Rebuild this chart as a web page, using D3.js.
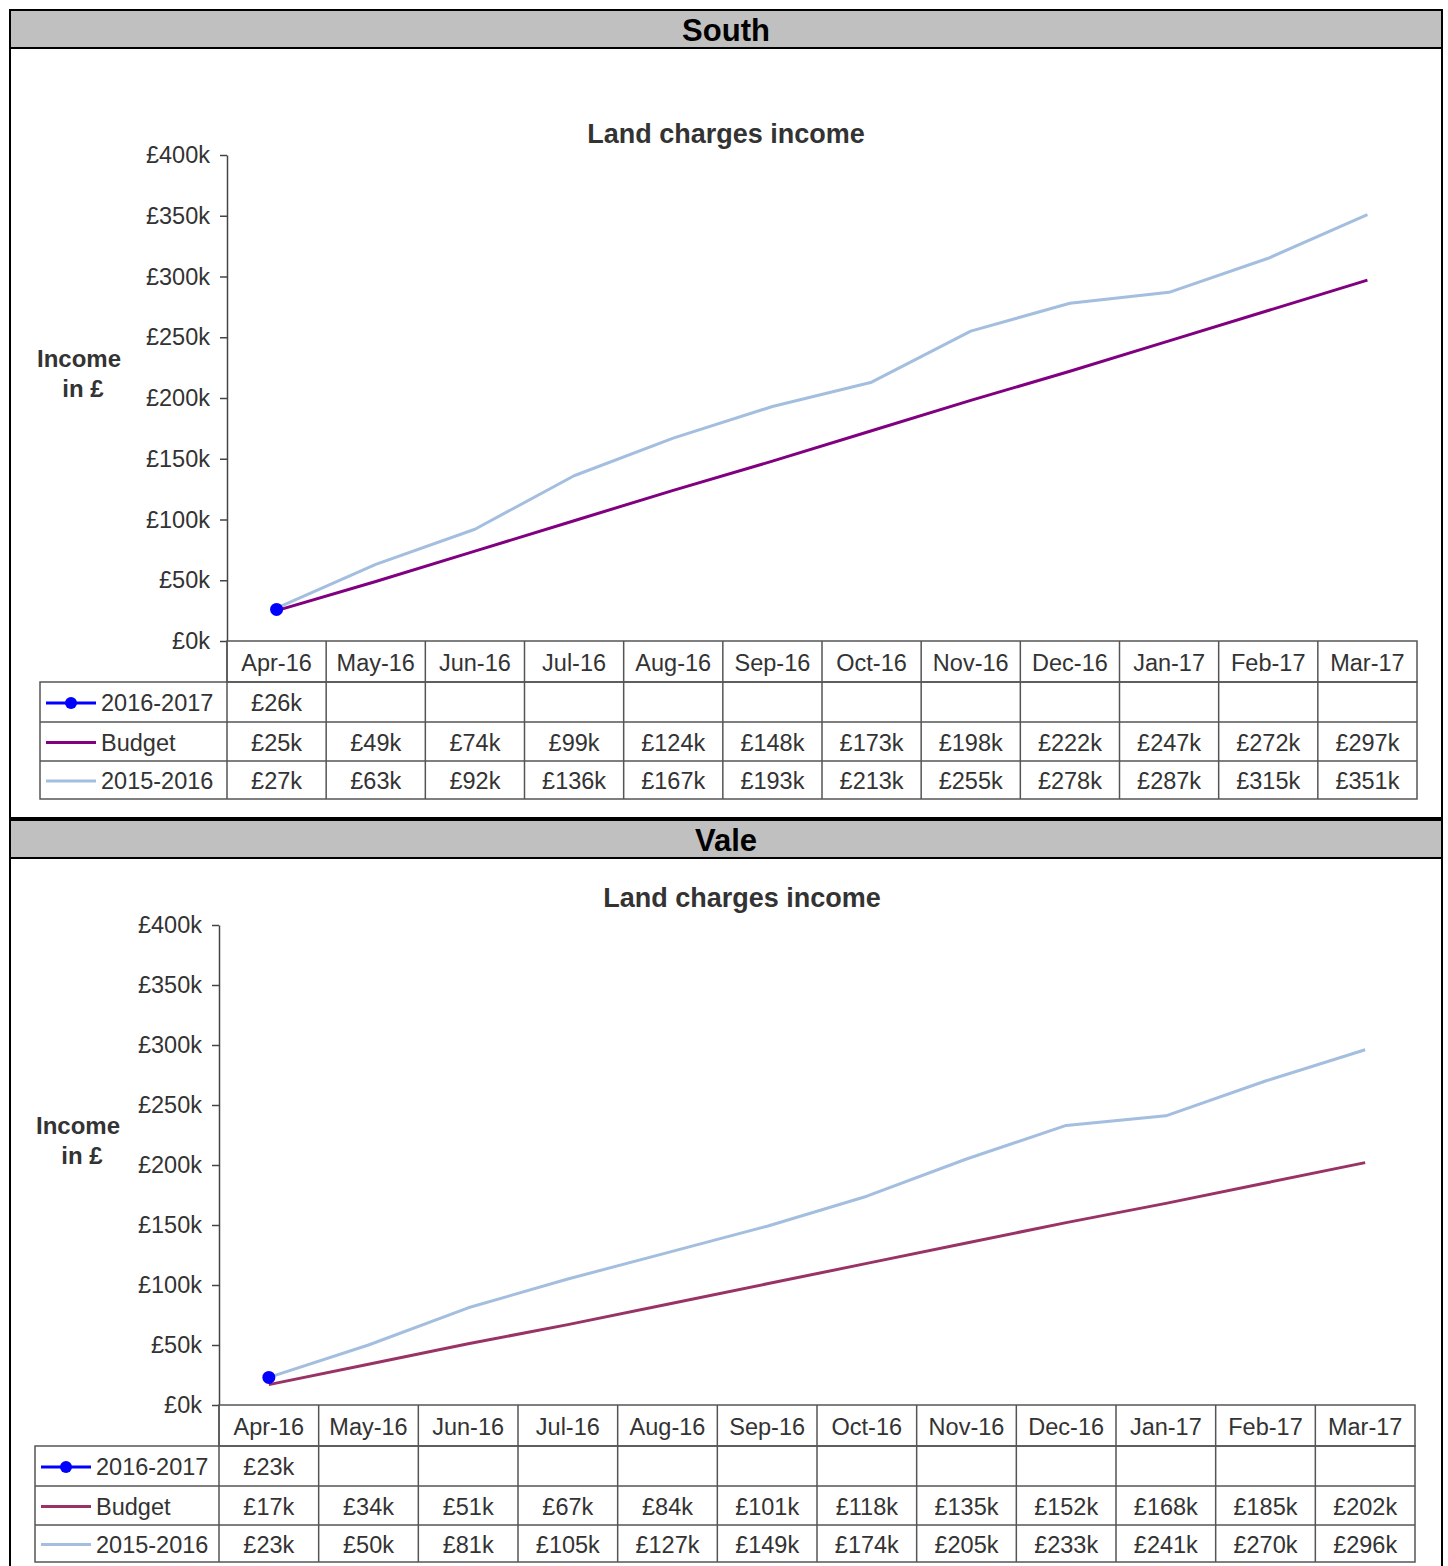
<!DOCTYPE html>
<html>
<head>
<meta charset="utf-8">
<script src="https://cdn.jsdelivr.net/npm/d3@7"></script>
<style>
  body { margin: 0; background: #fff; }
  svg { display: block; font-family: "Liberation Sans", Arial, sans-serif; }
</style>
</head>
<body>
<svg id="chart" width="1448" height="1566"></svg>
<script>
// Months shown along the category axis / table header
const months = ["Apr-16","May-16","Jun-16","Jul-16","Aug-16","Sep-16","Oct-16","Nov-16","Dec-16","Jan-17","Feb-17","Mar-17"];
const yTicks = [0, 50000, 100000, 150000, 200000, 250000, 300000, 350000, 400000];

// South — values in £k
const southActual = [26];
const southBudget = [25, 49, 74, 99, 124, 148, 173, 198, 222, 247, 272, 297];
const southPrior  = [27, 63, 92, 136, 167, 193, 213, 255, 278, 287, 315, 351];

// Vale — values in £k
const valeActual = [23];
const valeBudget = [17, 34, 51, 67, 84, 101, 118, 135, 152, 168, 185, 202];
const valePrior  = [23, 50, 81, 105, 127, 149, 174, 205, 233, 241, 270, 296];

const svg = d3.select("#chart");
const fmt = v => "£" + Math.round(v) + "k";
const TXT = 23.5;

function drawPanel(p) {
  const g = svg.append("g");

  // panel frame and grey header band
  g.append("rect").attr("x", 10).attr("y", p.frameTop).attr("width", 1432)
    .attr("height", p.frameBottom - p.frameTop).attr("fill", "#fff")
    .attr("stroke", "#000").attr("stroke-width", 2);
  g.append("rect").attr("x", 10).attr("y", p.frameTop).attr("width", 1432)
    .attr("height", p.headerBottom - p.frameTop).attr("fill", "#c0c0c0")
    .attr("stroke", "#000").attr("stroke-width", 2);
  g.append("text").attr("x", 726).attr("y", (p.frameTop + p.headerBottom) / 2 + 1)
    .attr("text-anchor", "middle").attr("dominant-baseline", "central")
    .attr("font-size", 31).attr("font-weight", "bold").attr("fill", "#000")
    .text(p.name);

  // chart title
  g.append("text").attr("x", p.titleX).attr("y", p.titleY)
    .attr("text-anchor", "middle").attr("dominant-baseline", "central")
    .attr("font-size", 27).attr("font-weight", "bold").attr("fill", "#333")
    .text("Land charges income");

  // y-axis title
  const yt = g.append("text").attr("text-anchor", "middle")
    .attr("font-size", 24).attr("font-weight", "bold").attr("fill", "#333");
  yt.append("tspan").attr("x", p.axisTitleX).attr("y", p.axisTitleY).text("Income");
  yt.append("tspan").attr("x", p.axisTitleX + 4).attr("y", p.axisTitleY + 30).text("in £");

  const x = d3.scaleBand().domain(months).range([p.x0, p.x1]).padding(0);
  const y = d3.scaleLinear().domain([0, 400000]).range([p.yBottom, p.yTop]);
  const cx = m => x(m) + x.bandwidth() / 2;

  // y axis
  const ax = g.append("g").attr("transform", `translate(${p.x0},0)`)
    .call(d3.axisLeft(y).tickValues(yTicks).tickSize(7).tickSizeOuter(0).tickPadding(10)
      .tickFormat(d => "£" + d / 1000 + "k"));
  ax.selectAll("path, line").attr("stroke", "#444").attr("stroke-width", 1.5);
  ax.selectAll("text").attr("font-size", TXT).attr("fill", "#333")
    .attr("font-family", "'Liberation Sans', Arial, sans-serif");

  // series lines
  const line = d3.line().x((d, i) => cx(months[i])).y(d => y(d * 1000));
  g.append("path").datum(p.prior).attr("d", line).attr("fill", "none")
    .attr("stroke", p.priorColor).attr("stroke-width", 3).attr("stroke-linejoin", "round");
  g.append("path").datum(p.budget).attr("d", line).attr("fill", "none")
    .attr("stroke", p.budgetColor).attr("stroke-width", 3).attr("stroke-linejoin", "round");
  g.append("path").datum(p.actual).attr("d", line).attr("fill", "none")
    .attr("stroke", "#0000ff").attr("stroke-width", 3);
  g.selectAll(".pt").data(p.actual).enter().append("circle")
    .attr("cx", (d, i) => cx(months[i])).attr("cy", d => y(d * 1000))
    .attr("r", 6.5).attr("fill", "#0000ff");

  // data table
  const r = p.rows; // row edges: header, 3 series rows
  const grid = g.append("g").attr("stroke", "#555").attr("stroke-width", 1.5).attr("fill", "none");
  grid.append("rect").attr("x", p.x0).attr("y", r[0]).attr("width", p.x1 - p.x0).attr("height", r[1] - r[0]);
  grid.append("rect").attr("x", p.legendX).attr("y", r[1]).attr("width", p.x1 - p.legendX).attr("height", r[4] - r[1]);
  [r[2], r[3]].forEach(yy => grid.append("line").attr("x1", p.legendX).attr("x2", p.x1).attr("y1", yy).attr("y2", yy));
  months.forEach(m => grid.append("line").attr("x1", x(m)).attr("x2", x(m)).attr("y1", r[0]).attr("y2", r[4]));

  const tbl = g.append("g").attr("font-size", TXT).attr("fill", "#333")
    .attr("text-anchor", "middle").attr("dominant-baseline", "central");
  months.forEach(m => tbl.append("text").attr("x", cx(m)).attr("y", (r[0] + r[1]) / 2 + 1).text(m));

  const series = [
    { label: "2016-2017", values: p.actual, color: "#0000ff", marker: true },
    { label: "Budget", values: p.budget, color: p.budgetColor },
    { label: "2015-2016", values: p.prior, color: p.priorColor }
  ];
  series.forEach((s, k) => {
    const yy = (r[k + 1] + r[k + 2]) / 2 + 1;
    s.values.forEach((v, i) => tbl.append("text").attr("x", cx(months[i])).attr("y", yy).text(fmt(v)));
    const lx = p.legendX + 6;
    g.append("line").attr("x1", lx).attr("x2", lx + 50).attr("y1", yy).attr("y2", yy)
      .attr("stroke", s.color).attr("stroke-width", 3);
    if (s.marker) g.append("circle").attr("cx", lx + 25).attr("cy", yy).attr("r", 6).attr("fill", s.color);
    g.append("text").attr("x", lx + 55).attr("y", yy).attr("font-size", TXT).attr("fill", "#333")
      .attr("dominant-baseline", "central").text(s.label);
  });
}

drawPanel({
  name: "South", frameTop: 10, headerBottom: 48, frameBottom: 818,
  x0: 227, x1: 1417, yTop: 155, yBottom: 641,
  rows: [641, 682, 722, 761, 799], legendX: 40,
  titleX: 726, titleY: 134, axisTitleX: 79, axisTitleY: 367,
  actual: southActual, budget: southBudget, prior: southPrior,
  budgetColor: "#800080", priorColor: "#a3bedf"
});

drawPanel({
  name: "Vale", frameTop: 820, headerBottom: 858, frameBottom: 1580,
  x0: 219, x1: 1415, yTop: 925, yBottom: 1405,
  rows: [1405, 1446, 1486, 1525, 1562], legendX: 35,
  titleX: 742, titleY: 898, axisTitleX: 78, axisTitleY: 1134,
  actual: valeActual, budget: valeBudget, prior: valePrior,
  budgetColor: "#993366", priorColor: "#a3bedf"
});
</script>
</body>
</html>
